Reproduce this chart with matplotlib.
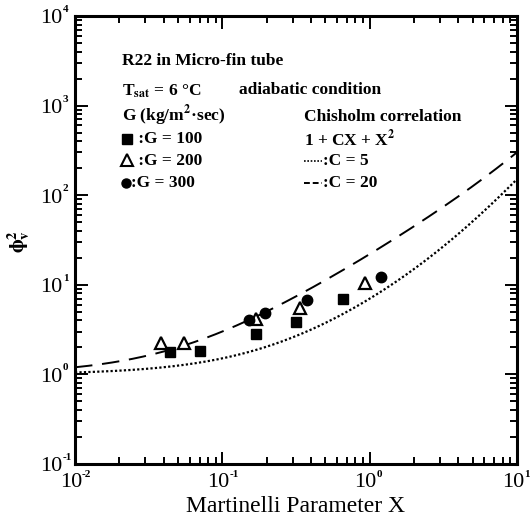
import numpy as np
import matplotlib
matplotlib.use("Agg")
import matplotlib.pyplot as plt
from matplotlib.ticker import LogLocator, NullFormatter

plt.rcParams['font.family'] = ['Liberation Serif', 'DejaVu Serif']
plt.rcParams['mathtext.fontset'] = 'stix'

# measured two-phase multiplier, R22, micro-fin tube
x_g100 = [0.0438, 0.0700, 0.169, 0.316, 0.655]
y_g100 = [1.80, 1.84, 2.84, 3.80, 6.90]
x_g200 = [0.0386, 0.0548, 0.168, 0.338, 0.933]
y_g200 = [2.25, 2.25, 4.10, 5.55, 10.4]
x_g300 = [0.151, 0.195, 0.375, 1.20]
y_g300 = [4.05, 4.80, 6.85, 12.3]

# Chisholm correlation constants
c_values = [5, 20]
c_styles = [(0, (1, 1)), (0, (9, 5))]
c_widths = [1.6, 1.4]

x_decades = [-2, -1, 0, 1]
y_decades = [-1, 0, 1, 2, 3, 4]

X = np.logspace(-2, 1, 300)

fig = plt.figure(figsize=(5.30, 5.26), dpi=100)
ax = fig.add_axes([0.1415, 0.1179, 0.834, 0.8517])

for C, ls, lw in zip(c_values, c_styles, c_widths):
    ax.plot(X, 1 + C * X + X ** 2, color='black', linestyle=ls, linewidth=lw)

ax.plot(x_g100, y_g100, 's', color='black', ms=7.5, ls='none')
ax.plot(x_g200, y_g200, '^', mfc='white', mec='black', mew=1.6, ms=9, ls='none')
ax.plot(x_g300, y_g300, 'o', color='black', ms=7.5, ls='none')

ax.set_xscale('log')
ax.set_yscale('log')
ax.set_xlim(1e-2, 1e1)
ax.set_ylim(1e-1, 1e4)

for a in (ax.xaxis, ax.yaxis):
    a.set_major_locator(LogLocator(base=10, numticks=10))
    a.set_minor_locator(LogLocator(base=10, subs=np.arange(2, 10), numticks=20))
    a.set_minor_formatter(NullFormatter())
    a.set_major_formatter(NullFormatter())

ax.tick_params(which='both', direction='in', top=True, right=True, width=1.4)
ax.tick_params(which='major', length=9)
ax.tick_params(which='minor', length=5)
for s in ax.spines.values():
    s.set_linewidth(2.2)

# decade labels: big "10" with a small raised exponent
xt = ax.get_xaxis_transform()
yt = ax.get_yaxis_transform()
for d in x_decades:
    ax.annotate('10', xy=(10.0 ** d, 0), xycoords=xt, xytext=(-4, -9),
                textcoords='offset pixels', ha='center', va='top', fontsize=16,
                annotation_clip=False)
    ax.annotate(str(d), xy=(10.0 ** d, 0), xycoords=xt, xytext=(7, -6),
                textcoords='offset pixels', ha='left', va='top', fontsize=8,
                fontweight='bold', annotation_clip=False)
for d in y_decades:
    ax.annotate('10', xy=(0, 10.0 ** d), xycoords=yt, xytext=(-13, -3),
                textcoords='offset pixels', ha='right', va='center', fontsize=16,
                annotation_clip=False)
    ax.annotate(str(d), xy=(0, 10.0 ** d), xycoords=yt, xytext=(-12, 11),
                textcoords='offset pixels', ha='left', va='top', fontsize=8,
                fontweight='bold', annotation_clip=False)

fig.text(296 / 530, 1 - 507 / 526, 'Martinelli Parameter X', fontsize=17,
         ha='center', va='center')
fig.text(19 / 530, 1 - 241 / 526, r'$\mathbf{ϕ}_{\mathbf{v}}^{\mathbf{2}}$',
         fontsize=15, rotation=90, ha='center', va='center')

# annotation block
tk = dict(transform=ax.transAxes, fontsize=12.5, fontweight='bold', va='center')
def fx(px):
    return (px - 75) / 442.0
def fy(py):
    return (464 - py) / 448.0

ax.text(fx(122), fy(61), 'R22 in Micro-fin tube', **tk)
ax.text(fx(122), fy(91), r'T$_{\mathbf{sat}}$ = 6 °C', **tk)
ax.text(fx(239), fy(90), 'adiabatic condition', **tk)
ax.text(fx(122), fy(116), r'G (kg/m$^{\mathbf{2}}$·sec)', **tk)
ax.text(fx(134), fy(139), ' :G = 100', **tk)
ax.text(fx(134), fy(161), ' :G = 200', **tk)
ax.text(fx(131), fy(183), ':G = 300', **tk)
ax.plot([fx(127)], [fy(139)], 's', color='black', ms=6.5, transform=ax.transAxes)
ax.plot([fx(127)], [fy(160)], '^', mfc='white', mec='black', mew=1.5, ms=8, transform=ax.transAxes)
ax.plot([fx(126)], [fy(183)], 'o', color='black', ms=6.5, transform=ax.transAxes)

ax.text(fx(304), fy(117), 'Chisholm correlation', **tk)
ax.text(fx(304), fy(139), r'1 + CX + X$^{\mathbf{2}}$', **tk)
ax.text(fx(323), fy(161), ':C = 5', **tk)
ax.text(fx(323), fy(183), ':C = 20', **tk)
ax.plot([fx(304), fx(322)], [fy(161), fy(161)], color='black', lw=1.2,
        ls=(0, (1, 1)), transform=ax.transAxes)
ax.plot([fx(304), fx(322)], [fy(183), fy(183)], color='black', lw=1.4,
        ls=(0, (3, 1.5)), transform=ax.transAxes)

fig.savefig('out.png', dpi=100)
